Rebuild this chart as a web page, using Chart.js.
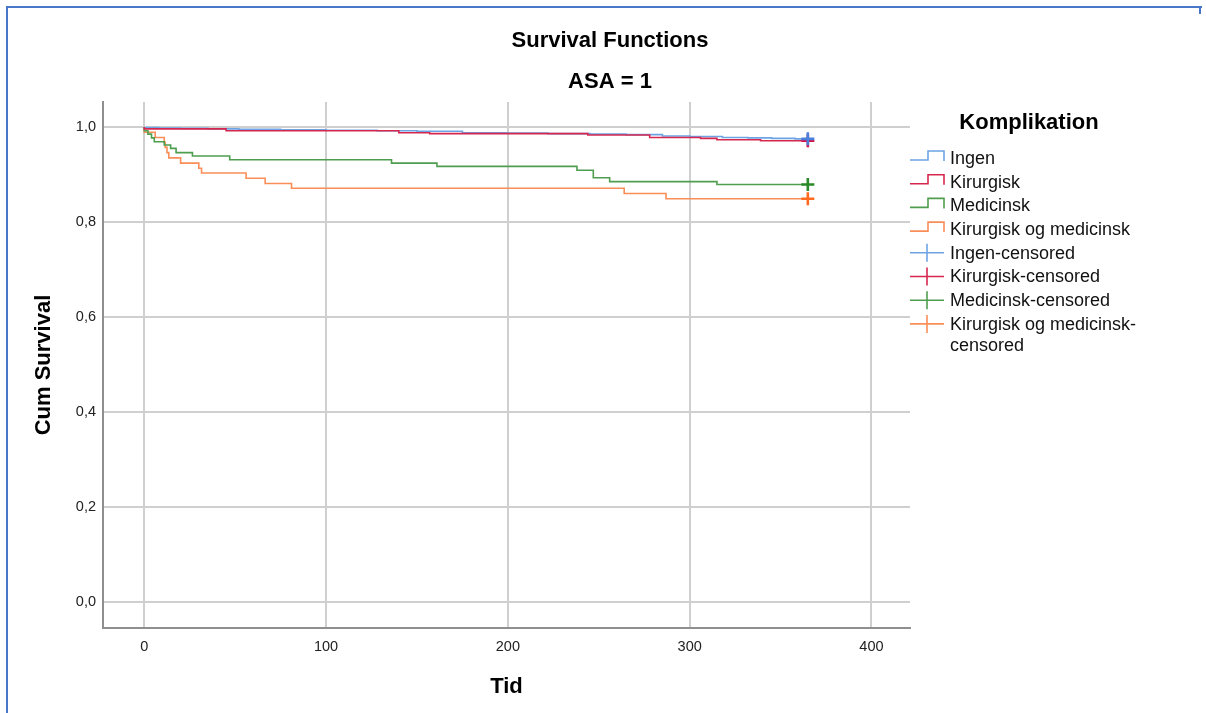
<!DOCTYPE html>
<html>
<head>
<meta charset="utf-8">
<title>Survival Functions</title>
<script src="https://cdn.jsdelivr.net/npm/chart.js@4.4.1/dist/chart.umd.min.js"></script>
<style>
  html, body { margin: 0; padding: 0; background: #fff; }
  #wrap { position: relative; width: 1206px; height: 713px; overflow: hidden; }
  #frame {
    position: absolute; left: 6px; top: 6px; width: 1194px; height: 740px;
    border-left: 2px solid #4a76c8; border-top: 2px solid #4a76c8; pointer-events: none;
  }
  #frameCorner {
    position: absolute; left: 1199px; top: 6px; width: 2px; height: 8px;
    background: #4a76c8; pointer-events: none;
  }
  canvas { position: absolute; left: 0; top: 0; }
</style>
</head>
<body>
<div id="wrap">
  <canvas id="kmChart" width="1206" height="713"></canvas>
  <div id="frame"></div>
  <div id="frameCorner"></div>
</div>
<script>
// Kaplan-Meier trin: tid (dage) og kumulativ overlevelse efter hver hændelse
const ingenTid  = [0, 8, 20, 35, 52, 75, 100, 128, 150, 175, 200, 222, 245, 265, 285, 300, 318, 332, 345, 358, 365];
const ingenSurv = [1.0, 0.999, 0.998, 0.997, 0.996, 0.995, 0.994, 0.993, 0.992, 0.991, 0.988, 0.987, 0.986, 0.985, 0.984, 0.981, 0.980, 0.978, 0.977, 0.976, 0.975];

const kirTid  = [0, 45, 140, 157, 244, 278, 306, 315, 339, 354, 365];
const kirSurv = [1.0, 0.996, 0.992, 0.988, 0.986, 0.983, 0.978, 0.976, 0.973, 0.971, 0.971];

const medTid  = [0, 2, 4, 5.5, 11, 14.5, 17.5, 26.5, 47, 136, 161, 238, 247, 256, 315, 349, 365];
const medSurv = [1.0, 0.992, 0.985, 0.977, 0.969, 0.962, 0.955, 0.946, 0.939, 0.931, 0.924, 0.917, 0.909, 0.893, 0.885, 0.879, 0.879];

const kombTid  = [0, 6, 11, 11.5, 12.5, 13.5, 20, 30, 31.5, 56, 66.5, 81, 264, 287, 307, 365];
const kombSurv = [1.0, 0.989, 0.978, 0.968, 0.957, 0.946, 0.935, 0.924, 0.913, 0.903, 0.892, 0.881, 0.871, 0.860, 0.849, 0.849];

// alle er censurerede ved opfølgningens slut
const censorTid = 365;

const xTicks = [0, 100, 200, 300, 400];
const yTicks = [0, 0.2, 0.4, 0.6, 0.8, 1.0];

const gruppeNavne  = ['Ingen', 'Kirurgisk', 'Medicinsk', 'Kirurgisk og medicinsk'];
const linjeFarver  = ['#6ea4e4', '#d6274f', '#4f9e4f', '#f98e58'];
const censorFarver = ['#4a80dc', '#d0134a', '#2a8a2a', '#ff6a1e'];

const tider = [ingenTid, kirTid, medTid, kombTid];
const overlevelse = [ingenSurv, kirSurv, medSurv, kombSurv];
// rækkefølge ved tegning (lavere = øverst)
const lagOrden = [3, 2, 4, 5];

const FONT = '"Liberation Sans", Arial, Helvetica, sans-serif';

const datasets = [];
gruppeNavne.forEach((navn, i) => {
    datasets.push({
        label: navn,
        data: tider[i].map((t, k) => ({ x: t, y: overlevelse[i][k] })),
        borderColor: linjeFarver[i],
        borderWidth: 1.6,
        stepped: 'after',
        pointRadius: 0,
        fill: false,
        order: lagOrden[i]
    });
});
gruppeNavne.forEach((navn, i) => {
    const sidste = overlevelse[i][overlevelse[i].length - 1];
    datasets.push({
        label: navn + '-censored',
        data: [{ x: censorTid, y: sidste }],
        showLine: false,
        pointStyle: 'cross',
        pointRadius: 6.5,
        pointBorderWidth: 2.6,
        borderColor: censorFarver[i],
        backgroundColor: censorFarver[i],
        order: 1
    });
});

// Titler og signaturforklaring tegnes direkte på lærredet
const tekstPlugin = {
    id: 'tekstPlugin',
    afterDraw(chart) {
        const ctx = chart.ctx;
        ctx.save();
        ctx.fillStyle = '#000';
        ctx.textAlign = 'center';
        ctx.textBaseline = 'middle';
        ctx.font = 'bold 22px ' + FONT;
        ctx.fillText('Survival Functions', 610, 41);
        ctx.fillText('ASA = 1', 610, 82);
        ctx.fillText('Komplikation', 1029, 123);

        ctx.textAlign = 'left';
        ctx.font = '18px ' + FONT;
        ctx.lineWidth = 1.6;
        let y = 158;
        const rk = 23.7;
        // trin-ikoner for kurverne
        gruppeNavne.forEach((navn, i) => {
            ctx.strokeStyle = linjeFarver[i];
            ctx.beginPath();
            ctx.moveTo(910, y + 2);
            ctx.lineTo(928, y + 2);
            ctx.lineTo(928, y - 7);
            ctx.lineTo(944, y - 7);
            ctx.lineTo(944, y + 3);
            ctx.stroke();
            ctx.fillStyle = '#111';
            ctx.fillText(navn, 950, y + 1);
            y += rk;
        });
        // kryds for censurerede
        gruppeNavne.forEach((navn, i) => {
            ctx.strokeStyle = linjeFarver[i];
            ctx.beginPath();
            ctx.moveTo(910, y);
            ctx.lineTo(944, y);
            ctx.moveTo(927, y - 9);
            ctx.lineTo(927, y + 9);
            ctx.stroke();
            ctx.fillStyle = '#111';
            const tekst = navn + '-censored';
            if (ctx.measureText(tekst).width > 200) {
                const brud = tekst.lastIndexOf('-') + 1;
                ctx.fillText(tekst.slice(0, brud), 950, y + 1);
                ctx.fillText(tekst.slice(brud), 950, y + 22);
            } else {
                ctx.fillText(tekst, 950, y + 1);
            }
            y += rk;
        });
        ctx.restore();
    }
};

const kommaFormat = v => v.toFixed(1).replace('.', ',');

new Chart(document.getElementById('kmChart'), {
    type: 'line',
    data: { datasets },
    options: {
        responsive: false,
        animation: false,
        devicePixelRatio: 1,
        layout: { padding: { left: 0, top: 102, right: 296, bottom: 0 } },
        plugins: {
            legend: { display: false },
            tooltip: { enabled: false },
            title: { display: false }
        },
        scales: {
            x: {
                type: 'linear',
                min: -22.7,
                max: 421.2,
                afterBuildTicks: s => { s.ticks = xTicks.map(v => ({ value: v })); },
                afterFit: s => { s.height = 85; },
                grid: { color: '#cfcfcf', lineWidth: 2, drawTicks: false },
                border: { display: true, color: '#8f8f8f', width: 2 },
                ticks: { padding: 10, color: '#222', font: { family: FONT, size: 14.5 } },
                title: {
                    display: true, text: 'Tid', color: '#000',
                    font: { family: FONT, size: 22, weight: 'bold' },
                    padding: { top: 0, bottom: 13 }
                }
            },
            y: {
                type: 'linear',
                min: -0.0547,
                max: 1.0526,
                afterBuildTicks: s => { s.ticks = yTicks.map(v => ({ value: v })); },
                afterFit: s => { s.width = 103; },
                grid: { color: '#cfcfcf', lineWidth: 2, drawTicks: false },
                border: { display: true, color: '#8f8f8f', width: 2 },
                ticks: {
                    padding: 7, color: '#222', font: { family: FONT, size: 14.5 },
                    callback: v => kommaFormat(v)
                },
                title: {
                    display: true, text: 'Cum Survival', color: '#000',
                    font: { family: FONT, size: 22, weight: 'bold' },
                    padding: { top: 31, bottom: 0 }
                }
            }
        }
    },
    plugins: [tekstPlugin]
});
</script>
</body>
</html>
